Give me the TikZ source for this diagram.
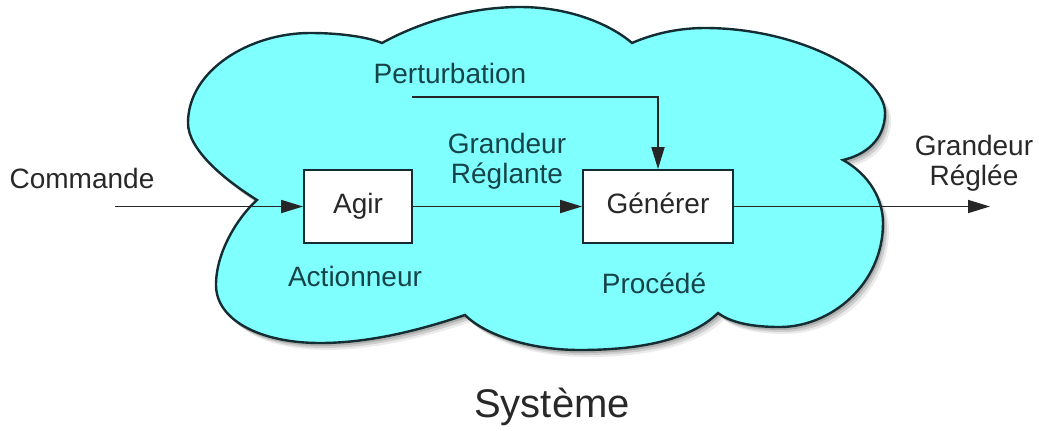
\documentclass[tikz,border=0pt]{standalone}
\usepackage{fontspec}
\setmainfont{Liberation Sans}
\usetikzlibrary{arrows.meta}
\definecolor{cloudfill}{RGB}{128,255,255}
\definecolor{cloudline}{RGB}{20,45,50}
\definecolor{intext}{RGB}{22,68,72}
\definecolor{outtext}{RGB}{40,40,40}
\tikzset{
  cloudshape/.style={insert path={
    (257,200) .. controls (225,180) and (188,150) .. (188,123)
    .. controls (188,70) and (250,33) .. (310,33)
    .. controls (345,33) and (370,38) .. (382,43)
    .. controls (420,22) and (470,7) .. (520,7)
    .. controls (575,7) and (615,28) .. (632,43)
    .. controls (655,33) and (680,28) .. (705,28)
    .. controls (800,28) and (885,75) .. (885,113)
    .. controls (885,140) and (865,155) .. (843,160)
    .. controls (870,175) and (883,200) .. (883,223)
    .. controls (883,285) and (830,327) .. (780,327)
    .. controls (750,327) and (730,322) .. (718,313)
    .. controls (690,340) and (640,350) .. (580,350)
    .. controls (530,350) and (485,335) .. (465,315)
    .. controls (420,330) and (370,343) .. (320,343)
    .. controls (260,343) and (216,320) .. (216,285)
    .. controls (216,250) and (240,215) .. (257,200) -- cycle}}
}
\begin{document}
\begin{tikzpicture}[x=0.5pt,y=-0.5pt,
  lbl/.style={font=\fontsize{14pt}{15pt}\selectfont, inner sep=0pt},
  intxt/.style={lbl, text=intext},
  outtxt/.style={lbl, text=outtext},
  blk/.style={draw=cloudline, fill=white, line width=0.9pt, minimum height=36.5pt,
    inner sep=0pt, text height=10pt, text depth=3pt,
    font=\fontsize{14pt}{15pt}\selectfont, text=outtext},
  flow/.style={draw=black!85, line width=0.9pt, -{Triangle[length=11pt,width=6.5pt]}},
]
\useasboundingbox (0,0) rectangle (1039,430);
% shadow
\begin{scope}[shift={(6,7)}]
  \path[fill=black, opacity=0.08, cloudshape];
\end{scope}
\begin{scope}[shift={(4,5)}]
  \path[fill=black, opacity=0.12, cloudshape];
\end{scope}
\begin{scope}[shift={(2,3)}]
  \path[fill=black, opacity=0.15, cloudshape];
\end{scope}
% cloud
\path[fill=cloudfill, draw=cloudline, line width=1.2pt, cloudshape];

% blocks
\node[blk, minimum width=54pt] (agir) at (358,206.5) {Agir};
\node[blk, minimum width=75pt] (gen) at (658,206.5) {Générer};

% connectors
\coordinate (cmdstart) at (115,206.5);
\coordinate (outend) at (990,206.5);
\coordinate (pstart) at (412,97);
\draw[flow] (cmdstart) -- (agir.west);
\draw[flow] (agir.east) -- (gen.west);
\draw[flow] (gen.east) -- (outend);
\draw[flow] (pstart) -| (gen.north);

% labels
\node[outtxt, anchor=base] (cmd) at (82,188) {Commande};
\node[intxt, anchor=base] (pert) at (450,83) {Perturbation};
\node[intxt, align=center] (gr) at (507,161) {Grandeur\\Réglante};
\node[outtxt, align=center] (gre) at (974,163) {Grandeur\\Réglée};
\node[intxt, anchor=base] (act) at (355,286) {Actionneur};
\node[intxt, anchor=base] (proc) at (654,293) {Procédé};
\node[outtxt, anchor=base, font=\fontsize{20pt}{24pt}\selectfont] (sys) at (552,417) {Système};
\end{tikzpicture}
\end{document}
